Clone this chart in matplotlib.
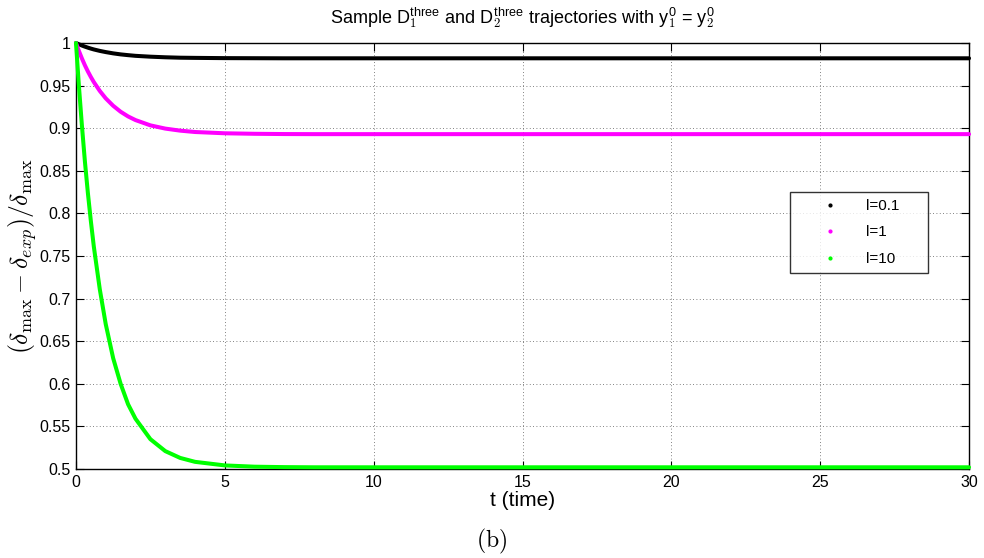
import numpy as np
import matplotlib
matplotlib.use('Agg')
import matplotlib.pyplot as plt
from matplotlib.lines import Line2D

plt.rcParams['font.family'] = ['Liberation Sans', 'DejaVu Sans']
plt.rcParams['mathtext.fontset'] = 'cm'

# values
t = [0, 0.1, 0.2, 0.3, 0.4, 0.5, 0.6, 0.8, 1.0, 1.25, 1.5, 1.75, 2.0, 2.5,
     3.0, 3.5, 4.0, 5.0, 6.0, 7.0, 8.0, 10, 15, 20, 25, 30]
y_l01 = [1.0, 0.9984, 0.9970, 0.9957, 0.9945, 0.9934, 0.9924, 0.9907, 0.9893,
         0.9878, 0.9866, 0.9857, 0.9849, 0.9839, 0.9832, 0.9827, 0.9825, 0.9822,
         0.9821, 0.982, 0.982, 0.982, 0.982, 0.982, 0.982, 0.982]
y_l1 = [1.0, 0.9905, 0.9818, 0.9738, 0.9666, 0.9601, 0.9541, 0.9437, 0.9350,
        0.9263, 0.9193, 0.9138, 0.9095, 0.9033, 0.8995, 0.8971, 0.8955, 0.8940,
        0.8934, 0.8931, 0.893, 0.893, 0.893, 0.893, 0.893, 0.893]
y_l10 = [1.0, 0.949, 0.903, 0.861, 0.824, 0.791, 0.761, 0.711, 0.670, 0.630,
         0.600, 0.576, 0.559, 0.535, 0.521, 0.513, 0.5084, 0.5042, 0.5027,
         0.5022, 0.502, 0.502, 0.502, 0.502, 0.502, 0.502]

series = [(y_l01, 'k', 'l=0.1'), (y_l1, '#ff00ff', 'l=1'), (y_l10, '#00ff00', 'l=10')]

fig = plt.figure(figsize=(9.84, 5.58), dpi=100)
ax = fig.add_axes([0.0772, 0.1595, 0.9076, 0.7635])

handles = []
for ys, col, lab in series:
    ax.plot(t, ys, color=col, linewidth=2.9, solid_capstyle='round',
            solid_joinstyle='round', clip_on=False, zorder=3)
    handles.append(Line2D([], [], color=col, marker='.', linestyle='none',
                          markersize=4, label=lab))

ax.set_xlim(0, 30)
ax.set_ylim(0.5, 1.0)
ax.set_xticks(np.arange(0, 31, 5))
ax.set_yticks(np.arange(0.5, 1.001, 0.05))
ax.set_yticklabels(['0.5', '0.55', '0.6', '0.65', '0.7', '0.75', '0.8',
                    '0.85', '0.9', '0.95', '1'])
ax.tick_params(direction='in', length=6, width=0.8, top=True, right=True,
               labelsize=11.5, pad=4)
for s in ax.spines.values():
    s.set_linewidth(1.0)
ax.grid(True, color='0.35', linestyle=(0, (1, 3)), linewidth=0.6)

ax.set_title(r'Sample D$_1^{\mathdefault{three}}$ and D$_2^{\mathdefault{three}}$'
             r' trajectories with y$_1^{\mathdefault{0}}$ = y$_2^{\mathdefault{0}}$',
             fontsize=13, pad=14)
ax.set_xlabel('t (time)', fontsize=15, labelpad=1)
ax.set_ylabel(r'$(\delta_{\max} - \delta_{exp})/\delta_{\max}$', fontsize=18.5, labelpad=0)

leg = ax.legend(handles=handles, loc='upper left',
                bbox_to_anchor=(0.7996, 0.4624, 0.1545, 0.1876), mode='expand',
                borderaxespad=0, frameon=True, fancybox=False, fontsize=11,
                handlelength=4.3, handletextpad=0.2, borderpad=0.45,
                labelspacing=0.82)
leg.get_frame().set_edgecolor('black')
leg.get_frame().set_linewidth(1.0)

fig.text(0.5, 0.029, r'$\mathrm{(b)}$', ha='center', va='center', fontsize=17)

fig.savefig('out.png', dpi=100)
